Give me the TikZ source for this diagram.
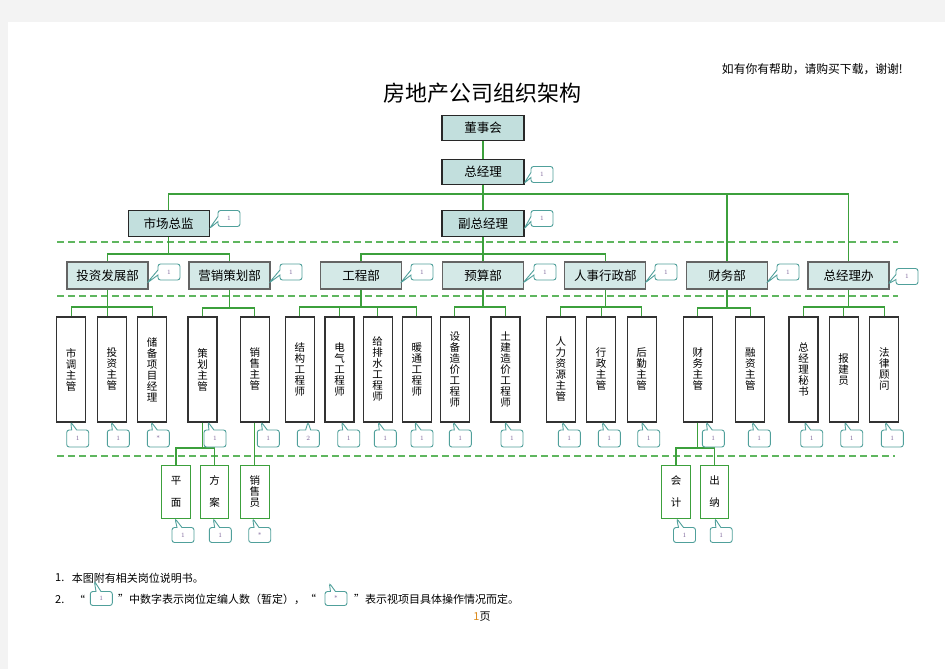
\documentclass[tikz,border=0pt]{standalone}
\usepackage{fontspec}
\newfontfamily\cjk{Noto Sans CJK SC}
\usetikzlibrary{shapes.callouts}
\definecolor{pagegray}{RGB}{243,243,243}
\definecolor{tealfill}{RGB}{194,223,221}
\definecolor{deptfill}{RGB}{212,233,231}
\definecolor{boxline}{RGB}{40,40,40}
\definecolor{deptline}{RGB}{100,100,100}
\definecolor{posline}{RGB}{50,50,50}
\definecolor{subline}{RGB}{60,160,60}
\definecolor{linkc}{RGB}{60,160,60}
\definecolor{sepc}{RGB}{95,182,95}
\definecolor{calloutc}{RGB}{80,160,155}
\definecolor{numc}{RGB}{120,95,150}
\definecolor{pgnum}{RGB}{220,140,30}
\begin{document}
\begin{tikzpicture}[x=1pt,y=-1pt,
  every node/.style={font=\cjk, inner sep=0pt},
  topbox/.style={draw=boxline, line width=1.4pt, fill=tealfill, minimum width=82pt, minimum height=25.5pt, font={\cjk\fontsize{12.5}{14}\selectfont}},
  deptbox/.style={draw=deptline, line width=1.3pt, fill=deptfill, minimum width=81pt, minimum height=27pt, font={\cjk\fontsize{12.5}{14}\selectfont}},
  posbox/.style={draw=posline, line width=1.2pt, fill=white, minimum width=29pt, minimum height=105pt, align=center, font={\cjk\fontsize{10.5}{11}\selectfont}},
  subbox/.style={draw=subline, line width=1.1pt, fill=white, minimum width=28.5pt, minimum height=53pt, align=center, font={\cjk\fontsize{10.5}{21.6}\selectfont}},
  note/.style={rectangle callout, rounded corners=2.5pt, draw=calloutc, line width=0.9pt, fill=white, minimum width=22pt, minimum height=16pt, callout pointer width=5pt, font={\fontsize{6.5}{6.5}\selectfont}, text=numc},
  link/.style={draw=linkc, line width=1.2pt},
  sepline/.style={draw=sepc, line width=1.5pt, dash pattern=on 7pt off 4pt},
  txt/.style={font={\cjk\fontsize{11}{13}\selectfont}}
]
\fill[pagegray] (0,0) rectangle (945,669);
\fill[white] (8,22) rectangle (945,669);
\useasboundingbox (0,0) rectangle (945,669);

% header and title
\node[anchor=east, font={\cjk\fontsize{11.8}{13}\selectfont}] (hdr) at (903,69) {如有你有帮助，请购买下载，谢谢!};
\node[font={\cjk\fontsize{22}{24}\selectfont}] (title) at (482.5,93) {房地产公司组织架构};

% separators
\draw[sepline] (57,242) -- (898,242);
\draw[sepline] (57,296) -- (898,296);
\draw[sepline] (57,456) -- (895,456);

% top levels
\node[topbox] (board) at (483,128) {董事会};
\node[topbox] (gm) at (483,172) {总经理};
\node[topbox, minimum width=81pt] (mkt) at (168.7,223.5) {市场总监};
\node[topbox] (vgm) at (483,223.5) {副总经理};

% departments
\node[deptbox] (inv) at (107.5,275.5) {投资发展部};
\node[deptbox] (mkg) at (229.5,275.5) {营销策划部};
\node[deptbox] (eng) at (361,275.5) {工程部};
\node[deptbox] (bud) at (483,275.5) {预算部};
\node[deptbox] (hr) at (605.3,275.5) {人事行政部};
\node[deptbox] (fin) at (727,275.5) {财务部};
\node[deptbox] (off) at (848.5,275.5) {总经理办};

% positions
\node[posbox] (p1) at (71.2,369.5) {市\\调\\主\\管};
\node[posbox] (p2) at (111.8,369.5) {投\\资\\主\\管};
\node[posbox] (p3) at (152.2,369.5) {储\\备\\项\\目\\经\\理};
\node[posbox] (p4) at (202.5,369.5) {策\\划\\主\\管};
\node[posbox] (p5) at (254.8,369.5) {销\\售\\主\\管};
\node[posbox] (p6) at (299.8,369.5) {结\\构\\工\\程\\师};
\node[posbox] (p7) at (339.5,369.5) {电\\气\\工\\程\\师};
\node[posbox] (p8) at (377.7,369.5) {给\\排\\水\\工\\程\\师};
\node[posbox] (p9) at (416.8,369.5) {暖\\通\\工\\程\\师};
\node[posbox] (p10) at (454.8,369.5) {设\\备\\造\\价\\工\\程\\师};
\node[posbox] (p11) at (505.5,369.5) {土\\建\\造\\价\\工\\程\\师};
\node[posbox] (p12) at (560.8,369.5) {人\\力\\资\\源\\主\\管};
\node[posbox] (p13) at (601.2,369.5) {行\\政\\主\\管};
\node[posbox] (p14) at (641.7,369.5) {后\\勤\\主\\管};
\node[posbox] (p15) at (697.8,369.5) {财\\务\\主\\管};
\node[posbox] (p16) at (750.3,369.5) {融\\资\\主\\管};
\node[posbox] (p17) at (803.5,369.5) {总\\经\\理\\秘\\书};
\node[posbox] (p18) at (843.7,369.5) {报\\建\\员};
\node[posbox] (p19) at (884.3,369.5) {法\\律\\顾\\问};

% sub positions
\node[subbox] (s1) at (176,491.7) {平\\面};
\node[subbox] (s2) at (214.5,491.7) {方\\案};
\node[subbox, font={\cjk\fontsize{10.5}{11}\selectfont}] (s3) at (254.8,491.7) {销\\售\\员};
\node[subbox] (s4) at (676,491.7) {会\\计};
\node[subbox] (s5) at (714.5,491.7) {出\\纳};

% connectors top
\coordinate (bus1) at (0,194);
\coordinate (bus2) at (0,254);
\draw[link] (board.south) -- (gm.north);
\draw[link] (gm.south) -- (vgm.north);
\draw[link] (mkt.north) -- (mkt.north |- bus1) -- (off.north |- bus1) -- (off.north);
\draw[link] (fin.north |- bus1) -- (fin.north);
\draw[link] (mkt.south) -- (mkt.south |- bus2);
\draw[link] (inv.north) -- (inv.north |- bus2) -- (mkg.north |- bus2) -- (mkg.north);
\draw[link] (vgm.south) -- (bud.north);
\draw[link] (eng.north) -- (eng.north |- bus2) -- (hr.north |- bus2) -- (hr.north);

% connectors to positions
\coordinate (b4) at (0,307);
\coordinate (b4m) at (0,308);
\draw[link] (inv.south) -- (inv.south |- p2.north);
\draw[link] (p1.north) -- (p1.north |- b4) -- (p3.north |- b4) -- (p3.north);
\draw[link] (mkg.south) -- (mkg.south |- b4m);
\draw[link] (p4.north) -- (p4.north |- b4m) -- (p5.north |- b4m) -- (p5.north);
\draw[link] (eng.south) -- (eng.south |- b4);
\draw[link] (p6.north) -- (p6.north |- b4) -- (p9.north |- b4) -- (p9.north);
\draw[link] (p7.north |- b4) -- (p7.north);
\draw[link] (p8.north |- b4) -- (p8.north);
\draw[link] (bud.south) -- (bud.south |- b4);
\draw[link] (p10.north) -- (p10.north |- b4) -- (p11.north |- b4) -- (p11.north);
\draw[link] (hr.south) -- (hr.south |- b4);
\draw[link] (p12.north) -- (p12.north |- b4) -- (p14.north |- b4) -- (p14.north);
\draw[link] (p13.north |- b4) -- (p13.north);
\draw[link] (fin.south) -- (fin.south |- b4m);
\draw[link] (p15.north) -- (p15.north |- b4m) -- (p16.north |- b4m) -- (p16.north);
\draw[link] (off.south) -- (off.south |- b4);
\draw[link] (p17.north) -- (p17.north |- b4) -- (p19.north |- b4) -- (p19.north);
\draw[link] (p18.north |- b4) -- (p18.north);

% connectors to sub positions
\coordinate (b5) at (0,448);
\draw[link] (p4.south) -- (p4.south |- b5);
\draw[link] (s1.north) -- (s1.north |- b5) -- (s2.north |- b5) -- (s2.north);
\draw[link] (p5.south) -- (s3.north);
\draw[link] (p15.south) -- (p15.south |- b5);
\draw[link] (s4.north) -- (s4.north |- b5) -- (s5.north |- b5) -- (s5.north);

% callouts top
\node[note] (c-gm) at (542,174.5) [callout absolute pointer={(524,183.5)}] {1};
\node[note] (c-mkt) at (229,218.5) [callout absolute pointer={(209.5,228.5)}] {1};
\node[note] (c-vgm) at (542,218.5) [callout absolute pointer={(524,229)}] {1};
% callouts departments
\node[note] (c-inv) at (169,272) [callout absolute pointer={(147,283)}] {1};
\node[note] (c-mkg) at (291,272) [callout absolute pointer={(269,283)}] {1};
\node[note] (c-eng) at (422,272) [callout absolute pointer={(400.5,283)}] {1};
\node[note] (c-bud) at (545,272) [callout absolute pointer={(523,283)}] {1};
\node[note] (c-hr) at (666,272) [callout absolute pointer={(645,283)}] {1};
\node[note] (c-fin) at (788,272) [callout absolute pointer={(766.5,283)}] {1};
\node[note] (c-off) at (907,276.5) [callout absolute pointer={(888,284)}] {1};
% callouts positions
\foreach \nm/\bx/\lab in {p1/66.7/1, p2/107.3/1, p3/147.3/*, p4/204/1, p5/257.3/1, p7/337.7/1, p8/374.3/1, p9/411/1, p10/449.3/1, p11/501/1, p12/558.3/1, p13/598.3/1, p14/637.7/1, p15/702.3/1, p16/748.3/1, p17/800.7/1, p18/840.7/1, p19/881.3/1}{
  \node[note, minimum height=17pt] (c-\nm) at (\bx+11,438.5) [callout absolute pointer={(\bx+4,422)}] {\lab};
}
\node[note, minimum height=17pt] (c-p6) at (308.3,438.5) [callout absolute pointer={(308,422)}] {2};
% callouts sub positions
\node[note, minimum height=15pt] (c-s1) at (183,535) [callout absolute pointer={(175,518.5)}] {1};
\node[note, minimum height=15pt] (c-s2) at (220.3,535) [callout absolute pointer={(213.3,518.5)}] {1};
\node[note, minimum height=15pt] (c-s3) at (259.7,535) [callout absolute pointer={(252.7,518.5)}] {*};
\node[note, minimum height=15pt] (c-s4) at (684.5,535) [callout absolute pointer={(676.7,518.5)}] {1};
\node[note, minimum height=15pt] (c-s5) at (721.2,535) [callout absolute pointer={(715,518.5)}] {1};

% notes
\node[txt, anchor=west] (n1num) at (55,578) {1.};
\node[txt, anchor=west] (n1) at (71.7,578) {本图附有相关岗位说明书。};
\node[txt, anchor=west] (n2num) at (55,599.5) {2.};
\node[txt, anchor=west] (n2q) at (74,599.5) {“};
\node[note, minimum height=14pt] (c-n1) at (101.3,598.5) [callout absolute pointer={(94.3,581)}] {1};
\node[txt, anchor=west] (n2a) at (118,599.5) {”中数字表示岗位定编人数（暂定），“};
\node[note, minimum height=14pt] (c-n2) at (336,598.5) [callout absolute pointer={(329.3,583)}] {*};
\node[txt, anchor=west] (n2b) at (354,599.5) {”表示视项目具体操作情况而定。};
\node[txt] (pg) at (482,617) {{\color{pgnum}1}页};
\end{tikzpicture}
\end{document}
